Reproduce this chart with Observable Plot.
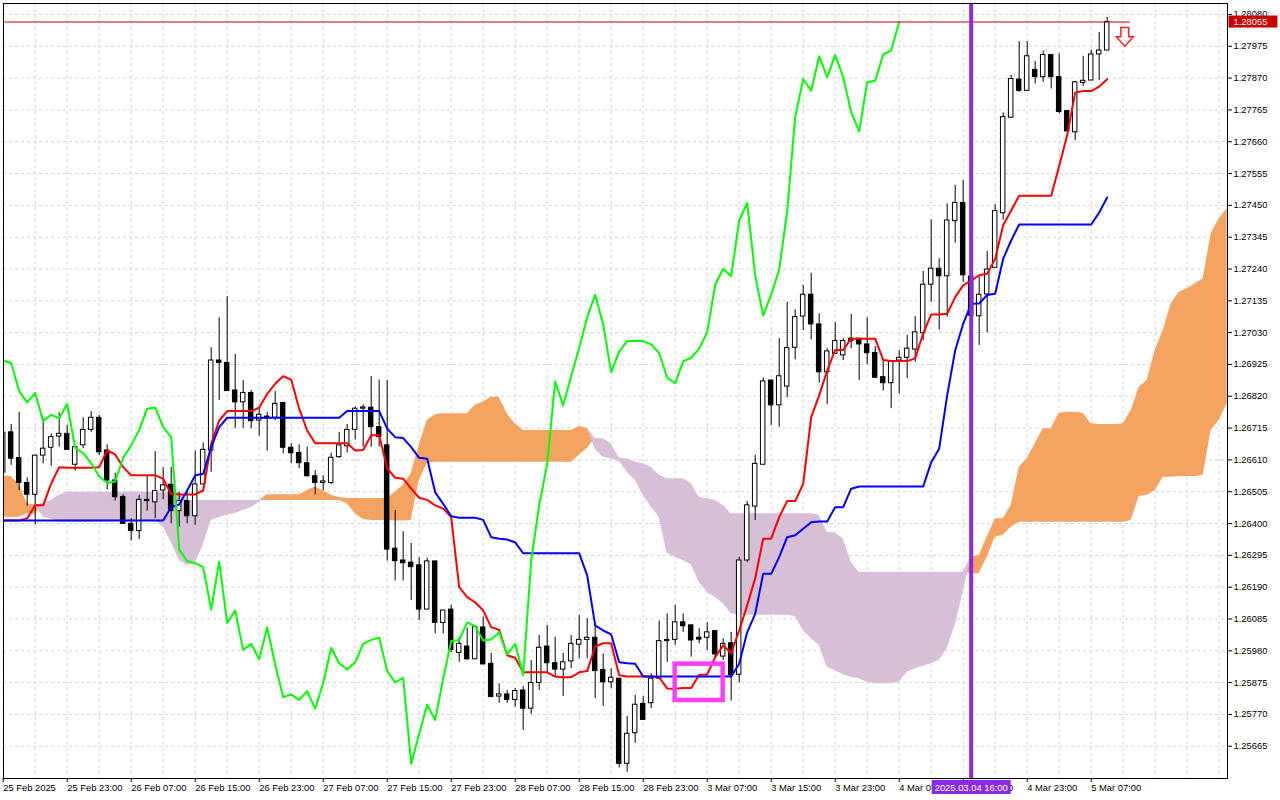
<!DOCTYPE html>
<html><head><meta charset="utf-8">
<script src="https://cdn.jsdelivr.net/npm/d3@7"></script>
<script src="https://cdn.jsdelivr.net/npm/@observablehq/plot@0.6"></script>
<style>html,body{margin:0;padding:0;background:#fff;}#chart{width:1280px;height:800px;}</style>
</head><body><div id="chart"></div>
<script>
// GBPUSD H1 candles, bar index 0 = 25 Feb 2025 15:00
const openP = [1.26568,1.26701,1.26616,1.26534,1.26495,1.26624,1.26650,1.26687,1.26696,1.26594,1.26658,1.26709,1.26749,1.26641,1.26542,1.26487,1.26399,1.26375,1.26478,1.26470,
1.26509,1.26528,1.26441,1.26474,1.26424,1.26529,1.26641,1.26938,1.26930,1.26839,1.26800,1.26831,1.26740,1.26753,1.26749,1.26798,1.26650,1.26633,1.26599,1.26556,
1.26534,1.26534,1.26619,1.26655,1.26709,1.26779,1.26782,1.26718,1.26658,1.26317,1.26278,1.26271,1.26262,1.26116,1.26275,1.26072,1.26116,1.25973,1.25994,1.25952,
1.26057,1.25937,1.25829,1.25836,1.25818,1.25849,1.25789,1.25874,1.25994,1.25939,1.25918,1.25945,1.26000,1.26016,1.26023,1.25917,1.25876,1.25888,1.25607,1.25708,
1.25805,1.25807,1.25888,1.26012,1.26016,1.26074,1.26064,1.26023,1.26023,1.26045,1.25961,1.26005,1.25901,1.26278,1.26456,1.26594,1.26872,1.26790,1.26852,1.26980,
1.27083,1.27155,1.27057,1.26899,1.26960,1.26955,1.27010,1.27010,1.26991,1.26963,1.26883,1.26863,1.26938,1.26947,1.26974,1.27028,1.27188,1.27241,1.27216,1.27398,
1.27458,1.27215,1.27084,1.27156,1.27244,1.27424,1.27739,1.27865,1.27828,1.27897,1.27873,1.27946,1.27873,1.27761,1.27691,1.27854,1.27862,1.27948,1.27961];
const highP = [1.26724,1.26727,1.26767,1.26551,1.26625,1.26746,1.26696,1.26765,1.26724,1.26652,1.26749,1.26770,1.26757,1.26660,1.26566,1.26495,1.26416,1.26493,1.26555,1.26638,
1.26584,1.26586,1.26503,1.26509,1.26639,1.26666,1.26980,1.27079,1.27149,1.26958,1.26872,1.26839,1.26782,1.26767,1.26836,1.26798,1.26663,1.26660,1.26652,1.26575,
1.26558,1.26632,1.26701,1.26727,1.26784,1.26792,1.26885,1.26874,1.26872,1.26443,1.26373,1.26334,1.26287,1.26286,1.26275,1.26113,1.26130,1.26025,1.26055,1.26058,
1.26091,1.25972,1.25871,1.25849,1.25855,1.25862,1.25948,1.26031,1.26064,1.26025,1.25972,1.26031,1.26097,1.26086,1.26071,1.25970,1.25921,1.25888,1.25763,1.25833,
1.25829,1.25904,1.26078,1.26102,1.26130,1.26102,1.26064,1.26053,1.26072,1.26045,1.26020,1.26041,1.26289,1.26473,1.26625,1.26881,1.26872,1.27010,1.27130,1.27105,
1.27186,1.27226,1.27092,1.26977,1.27062,1.27010,1.27090,1.27010,1.27079,1.26984,1.26938,1.26935,1.26971,1.27021,1.27083,1.27232,1.27402,1.27274,1.27455,1.27516,
1.27532,1.27261,1.27213,1.27298,1.27452,1.27755,1.27879,1.27990,1.27990,1.27925,1.27959,1.27946,1.27950,1.27761,1.27859,1.27942,1.27962,1.28020,1.28070];
const lowP = [1.26549,1.26592,1.26509,1.26457,1.26396,1.26597,1.26589,1.26652,1.26643,1.26573,1.26647,1.26701,1.26625,1.26511,1.26474,1.26399,1.26342,1.26347,1.26441,1.26416,
1.26479,1.26399,1.26388,1.26399,1.26394,1.26529,1.26569,1.26806,1.26837,1.26713,1.26714,1.26713,1.26688,1.26639,1.26740,1.26630,1.26597,1.26581,1.26553,1.26495,
1.26509,1.26529,1.26615,1.26633,1.26676,1.26652,1.26652,1.26652,1.26276,1.26210,1.26210,1.26146,1.26080,1.26116,1.26036,1.26036,1.25974,1.25942,1.25948,1.25952,
1.25935,1.25827,1.25807,1.25807,1.25794,1.25717,1.25770,1.25849,1.25909,1.25893,1.25829,1.25921,1.25954,1.25954,1.25822,1.25796,1.25855,1.25594,1.25579,1.25675,
1.25752,1.25789,1.25888,1.25942,1.25998,1.26041,1.25959,1.26003,1.25981,1.25957,1.25948,1.25814,1.25875,1.26271,1.26410,1.26594,1.26724,1.26718,1.26815,1.26940,
1.27037,1.27006,1.26863,1.26792,1.26960,1.26938,1.26977,1.26872,1.26924,1.26881,1.26837,1.26779,1.26828,1.26878,1.26932,1.27004,1.27130,1.27039,1.27081,1.27325,
1.27196,1.27063,1.26988,1.27029,1.27244,1.27401,1.27739,1.27823,1.27828,1.27850,1.27856,1.27834,1.27752,1.27694,1.27663,1.27842,1.27862,1.27862,1.27961];
const closeP = [1.26700,1.26614,1.26534,1.26495,1.26624,1.26647,1.26685,1.26696,1.26643,1.26652,1.26709,1.26749,1.26635,1.26542,1.26487,1.26399,1.26375,1.26478,1.26474,1.26507,
1.26526,1.26441,1.26474,1.26424,1.26529,1.26643,1.26938,1.26930,1.26837,1.26800,1.26831,1.26738,1.26759,1.26747,1.26795,1.26650,1.26632,1.26599,1.26556,1.26534,
1.26539,1.26617,1.26658,1.26709,1.26779,1.26783,1.26718,1.26685,1.26314,1.26276,1.26269,1.26256,1.26116,1.26275,1.26072,1.26113,1.25983,1.26003,1.25952,1.26058,
1.25935,1.25827,1.25836,1.25818,1.25847,1.25789,1.25874,1.25990,1.25939,1.25918,1.25942,1.26003,1.26016,1.26023,1.25913,1.25876,1.25891,1.25607,1.25706,1.25802,
1.25752,1.25888,1.26012,1.26016,1.26074,1.26061,1.26014,1.26017,1.26041,1.25968,1.26003,1.25899,1.26278,1.26460,1.26597,1.26869,1.26790,1.26886,1.26979,1.27081,
1.27155,1.27057,1.26899,1.26968,1.27002,1.27002,1.27002,1.26991,1.26962,1.26881,1.26863,1.26935,1.26947,1.26977,1.27031,1.27188,1.27241,1.27216,1.27400,1.27458,
1.27219,1.27086,1.27155,1.27238,1.27431,1.27741,1.27867,1.27828,1.27942,1.27873,1.27946,1.27873,1.27758,1.27694,1.27856,1.27861,1.27948,1.27961,1.28055];

// Ichimoku lines
const tenkan = [1.26410,1.26410,1.26410,1.26417,1.26460,1.26460,1.26532,1.26586,1.26584,1.26584,1.26584,1.26584,1.26586,1.26641,1.26628,1.26586,1.26559,1.26559,1.26559,1.26559,
1.26548,1.26498,1.26496,1.26496,1.26496,1.26509,1.26663,1.26740,1.26771,1.26771,1.26771,1.26771,1.26782,1.26828,1.26861,1.26886,1.26875,1.26779,1.26707,1.26665,
1.26665,1.26665,1.26665,1.26665,1.26641,1.26643,1.26691,1.26691,1.26582,1.26551,1.26548,1.26515,1.26485,1.26478,1.26460,1.26449,1.26421,1.26190,1.26157,1.26140,
1.26113,1.26058,1.26049,1.25965,1.25957,1.25909,1.25909,1.25909,1.25909,1.25895,1.25893,1.25893,1.25909,1.25913,1.25994,1.26005,1.26005,1.25899,1.25895,1.25895,
1.25895,1.25895,1.25892,1.25856,1.25855,1.25857,1.25857,1.25901,1.25902,1.25959,1.25998,1.25972,1.26047,1.26130,1.26219,1.26350,1.26350,1.26421,1.26474,1.26474,
1.26531,1.26751,1.26823,1.26905,1.26973,1.26973,1.27010,1.27010,1.27010,1.27010,1.26940,1.26936,1.26936,1.26936,1.26945,1.27027,1.27090,1.27090,1.27092,1.27147,
1.27186,1.27202,1.27219,1.27224,1.27274,1.27384,1.27433,1.27482,1.27482,1.27482,1.27482,1.27482,1.27580,1.27681,1.27822,1.27827,1.27827,1.27842,1.27866];
const kijun = [1.26410,1.26410,1.26410,1.26410,1.26410,1.26410,1.26410,1.26410,1.26410,1.26410,1.26410,1.26410,1.26410,1.26410,1.26410,1.26410,1.26410,1.26410,1.26410,1.26410,
1.26410,1.26454,1.26463,1.26509,1.26559,1.26564,1.26652,1.26718,1.26749,1.26749,1.26749,1.26749,1.26749,1.26749,1.26749,1.26749,1.26749,1.26749,1.26749,1.26749,
1.26749,1.26749,1.26749,1.26771,1.26771,1.26771,1.26771,1.26771,1.26713,1.26685,1.26682,1.26652,1.26617,1.26614,1.26503,1.26465,1.26424,1.26419,1.26419,1.26419,
1.26412,1.26355,1.26350,1.26347,1.26338,1.26302,1.26302,1.26302,1.26302,1.26302,1.26302,1.26302,1.26302,1.26229,1.26064,1.26047,1.26034,1.25942,1.25939,1.25937,
1.25895,1.25895,1.25895,1.25895,1.25895,1.25895,1.25895,1.25895,1.25895,1.25895,1.25895,1.25895,1.25937,1.26041,1.26102,1.26234,1.26234,1.26289,1.26355,1.26361,
1.26383,1.26404,1.26407,1.26407,1.26454,1.26454,1.26515,1.26522,1.26522,1.26522,1.26522,1.26522,1.26522,1.26522,1.26522,1.26522,1.26602,1.26647,1.26823,1.26971,
1.27059,1.27125,1.27126,1.27154,1.27158,1.27274,1.27334,1.27387,1.27387,1.27387,1.27387,1.27387,1.27387,1.27387,1.27387,1.27387,1.27387,1.27426,1.27476];
// Senkou spans (already shifted 26 bars forward), bars 0..153
const spanA = [1.26555,1.26555,1.26529,1.26466,1.26460,1.26421,1.26416,1.26404,1.26404,1.26404,1.26404,1.26404,1.26410,1.26410,1.26410,1.26410,1.26410,1.26410,1.26410,1.26410,
1.26388,1.26338,1.26278,1.26262,1.26267,1.26328,1.26410,1.26420,1.26427,1.26433,1.26443,1.26453,1.26469,1.26495,1.26495,1.26495,1.26495,1.26495,1.26509,1.26520,
1.26509,1.26493,1.26486,1.26483,1.26483,1.26483,1.26483,1.26483,1.26483,1.26503,1.26526,1.26564,1.26658,1.26740,1.26759,1.26762,1.26762,1.26762,1.26762,1.26790,
1.26800,1.26817,1.26817,1.26762,1.26729,1.26707,1.26707,1.26707,1.26707,1.26707,1.26707,1.26707,1.26720,1.26714,1.26644,1.26619,1.26614,1.26605,1.26569,1.26542,
1.26493,1.26454,1.26421,1.26300,1.26289,1.26278,1.26264,1.26206,1.26173,1.26157,1.26135,1.26102,1.26097,1.26097,1.26097,1.26097,1.26097,1.26097,1.26097,1.26093,
1.26047,1.26020,1.25998,1.25926,1.25915,1.25901,1.25893,1.25888,1.25876,1.25871,1.25871,1.25871,1.25876,1.25909,1.25921,1.25929,1.25937,1.25948,1.25987,1.26064,
1.26173,1.26289,1.26295,1.26355,1.26416,1.26416,1.26460,1.26586,1.26614,1.26663,1.26713,1.26713,1.26764,1.26767,1.26767,1.26764,1.26729,1.26727,1.26727,1.26727,
1.26729,1.26773,1.26850,1.26872,1.26971,1.27037,1.27125,1.27163,1.27175,1.27191,1.27208,1.27356,1.27406,1.27439];
const spanB = [1.26421,1.26421,1.26421,1.26433,1.26430,1.26467,1.26476,1.26493,1.26503,1.26503,1.26503,1.26503,1.26503,1.26503,1.26503,1.26503,1.26503,1.26503,1.26503,1.26503,
1.26503,1.26503,1.26503,1.26476,1.26476,1.26476,1.26476,1.26476,1.26476,1.26476,1.26476,1.26476,1.26476,1.26476,1.26476,1.26476,1.26476,1.26476,1.26476,1.26476,
1.26476,1.26476,1.26476,1.26465,1.26433,1.26413,1.26410,1.26410,1.26410,1.26408,1.26408,1.26410,1.26542,1.26597,1.26602,1.26602,1.26602,1.26602,1.26602,1.26602,
1.26602,1.26602,1.26602,1.26602,1.26602,1.26602,1.26602,1.26602,1.26602,1.26602,1.26602,1.26601,1.26625,1.26648,1.26681,1.26680,1.26663,1.26616,1.26614,1.26602,
1.26597,1.26586,1.26559,1.26548,1.26548,1.26548,1.26531,1.26487,1.26482,1.26476,1.26460,1.26432,1.26432,1.26432,1.26432,1.26432,1.26432,1.26432,1.26432,1.26432,
1.26432,1.26432,1.26427,1.26371,1.26369,1.26350,1.26272,1.26239,1.26239,1.26239,1.26239,1.26239,1.26239,1.26239,1.26239,1.26239,1.26239,1.26239,1.26239,1.26239,
1.26239,1.26234,1.26234,1.26289,1.26355,1.26361,1.26388,1.26404,1.26404,1.26404,1.26404,1.26404,1.26404,1.26404,1.26404,1.26404,1.26404,1.26404,1.26404,1.26404,
1.26404,1.26410,1.26489,1.26493,1.26509,1.26553,1.26553,1.26555,1.26555,1.26555,1.26559,1.26707,1.26740,1.26795];

const chikouShift = 26;
const tickBars = [0,8,16,24,32,40,48,56,64,72,80,88,96,104,112,120,128,136];
const timeLabels = ["25 Feb 2025","25 Feb 23:00","26 Feb 07:00","26 Feb 15:00","26 Feb 23:00","27 Feb 07:00","27 Feb 15:00","27 Feb 23:00","28 Feb 07:00","28 Feb 15:00","28 Feb 23:00","3 Mar 07:00","3 Mar 15:00","3 Mar 23:00","4 Mar 07:00","4 Mar 15:00","4 Mar 23:00","5 Mar 07:00"];
const gridBars = [0,4,8,12,16,20,24,28,32,36,40,44,48,52,56,60,64,68,72,76,80,84,88,92,96,100,104,108,112,116,120,124,128,132,136,140,144,148,152];
const priceTicks = [1.25665,1.25770,1.25875,1.25980,1.26085,1.26190,1.26295,1.26400,1.26505,1.26610,1.26715,1.26820,1.26925,1.27030,1.27135,1.27240,1.27345,1.27450,1.27555,1.27660,1.27765,1.27870,1.27975,1.28080];
const markerBar = [121];
const markerLabel = "2025.03.04 16:00";
const boxBars = [84, 90];
const boxPrices = [1.25816, 1.25936];
const arrowBar = [140.2];
const arrowPrice = [1.28006];
const priceLineEnd = [140.9];
const xDomain = [0.04, 153.04];
const yDomain = [1.255586, 1.281161];

const candles = openP.map((o, i) => ({bar: i, open: o, high: highP[i], low: lowP[i], close: closeP[i]}));
const lines = tenkan.map((t, i) => ({bar: i, tenkan: t, kijun: kijun[i]}));
const chikou = closeP.map((c, i) => ({bar: i - chikouShift, value: c})).filter(d => d.bar >= 0);
const cloud = spanA.map((a, i) => ({bar: i, a, b: spanB[i], top: Math.max(a, spanB[i])}));
const lastClose = closeP[closeP.length - 1];
const box = {x1: boxBars[0], x2: boxBars[1], y1: boxPrices[0], y2: boxPrices[1]};
const signal = {bar: arrowBar[0], price: arrowPrice[0]};

const arrowSymbol = {
  draw(ctx, size) {
    const r = Math.sqrt(size / Math.PI);
    const sw = 0.42 * r, hw = 0.92 * r;
    ctx.moveTo(-sw, -r); ctx.lineTo(sw, -r); ctx.lineTo(sw, 0); ctx.lineTo(hw, 0);
    ctx.lineTo(0, r); ctx.lineTo(-hw, 0); ctx.lineTo(-sw, 0); ctx.closePath();
  }
};

const fmt5 = d3.format(".5f");
const gridStyle = {stroke: "#d4d4d4", strokeOpacity: 1, strokeDasharray: "3,3"};

const plot = Plot.plot({
  width: 1280, height: 800,
  marginLeft: 3, marginRight: 53, marginTop: 3, marginBottom: 22,
  x: {domain: xDomain},
  y: {domain: yDomain, label: null},
  style: {fontFamily: "'Liberation Sans', Arial, sans-serif", fontSize: "9.4px", color: "black", background: "white", overflow: "visible"},
  marks: [
    Plot.gridY(priceTicks, gridStyle),
    Plot.gridX(gridBars, gridStyle),
    Plot.areaY(cloud, {x: "bar", y1: "b", y2: "top", fill: "#F4A460", clip: true}),
    Plot.areaY(cloud, {x: "bar", y1: "a", y2: "top", fill: "#D8BFD8", clip: true}),
    Plot.ruleX(candles, {x: "bar", y1: "low", y2: "high", stroke: "black", strokeWidth: 1, clip: true}),
    Plot.rect(candles, {x1: d => d.bar - 0.28, x2: d => d.bar + 0.28, y1: "open", y2: "close",
      fill: d => d.close >= d.open ? "white" : "black", stroke: "black", strokeWidth: 1, clip: true}),
    Plot.line(lines, {x: "bar", y: "tenkan", stroke: "#ff0000", strokeWidth: 2, clip: true}),
    Plot.line(lines, {x: "bar", y: "kijun", stroke: "#0000ff", strokeWidth: 2, clip: true}),
    Plot.line(chikou, {x: "bar", y: "value", stroke: "#00ff00", strokeWidth: 2, clip: true}),
    Plot.ruleY([lastClose], {x1: xDomain[0], x2: priceLineEnd[0], stroke: "#c80000", strokeWidth: 1}),
    Plot.ruleX(markerBar, {stroke: "#8a2be2", strokeWidth: 4}),
    Plot.rect([box], {x1: "x1", x2: "x2", y1: "y1", y2: "y2", fill: "none", stroke: "#ff3cff", strokeWidth: 4.5}),
    Plot.dot([signal], {x: "bar", y: "price", symbol: arrowSymbol, r: 9.3, fill: "white", stroke: "#ff2020", strokeWidth: 1.5}),
    Plot.frame({stroke: "black", strokeWidth: 1}),
    Plot.axisY(priceTicks, {anchor: "right", tickSize: 4, tickPadding: 2, tickFormat: fmt5, label: null}),
    Plot.axisX(tickBars, {anchor: "bottom", tickSize: 4, tickPadding: 2, textAnchor: "start", tickFormat: d => timeLabels[tickBars.indexOf(d)], label: null}),
    Plot.text([lastClose], {y: d => d, frameAnchor: "right", dx: 6, textAnchor: "start", fill: "white", text: d => fmt5(d)}),
    Plot.text(markerBar, {x: d => d, frameAnchor: "bottom", dy: 12, textAnchor: "middle", fill: "white", text: () => markerLabel})
  ]
});
document.getElementById("chart").append(plot);

// background boxes for the two flags (found by their text)
function flag(label, color, padL, padR, padY) {
  const texts = Array.from(plot.querySelectorAll("text")).filter(t => t.textContent === label);
  texts.forEach(t => {
    const bb = t.getBBox();
    const r = document.createElementNS("http://www.w3.org/2000/svg", "rect");
    r.setAttribute("x", bb.x - padL);
    r.setAttribute("y", bb.y - padY);
    r.setAttribute("width", bb.width + padL + padR);
    r.setAttribute("height", bb.height + 2 * padY);
    r.setAttribute("fill", color);
    r.setAttribute("stroke", "none");
    if (t.getAttribute("transform")) r.setAttribute("transform", t.getAttribute("transform"));
    t.parentNode.insertBefore(r, t);
  });
}
flag(fmt5(lastClose), "#c80000", 5, 10, 0.5);
flag(markerLabel, "#8a2be2", 3, 3, 1.5);
</script>
</body></html>
